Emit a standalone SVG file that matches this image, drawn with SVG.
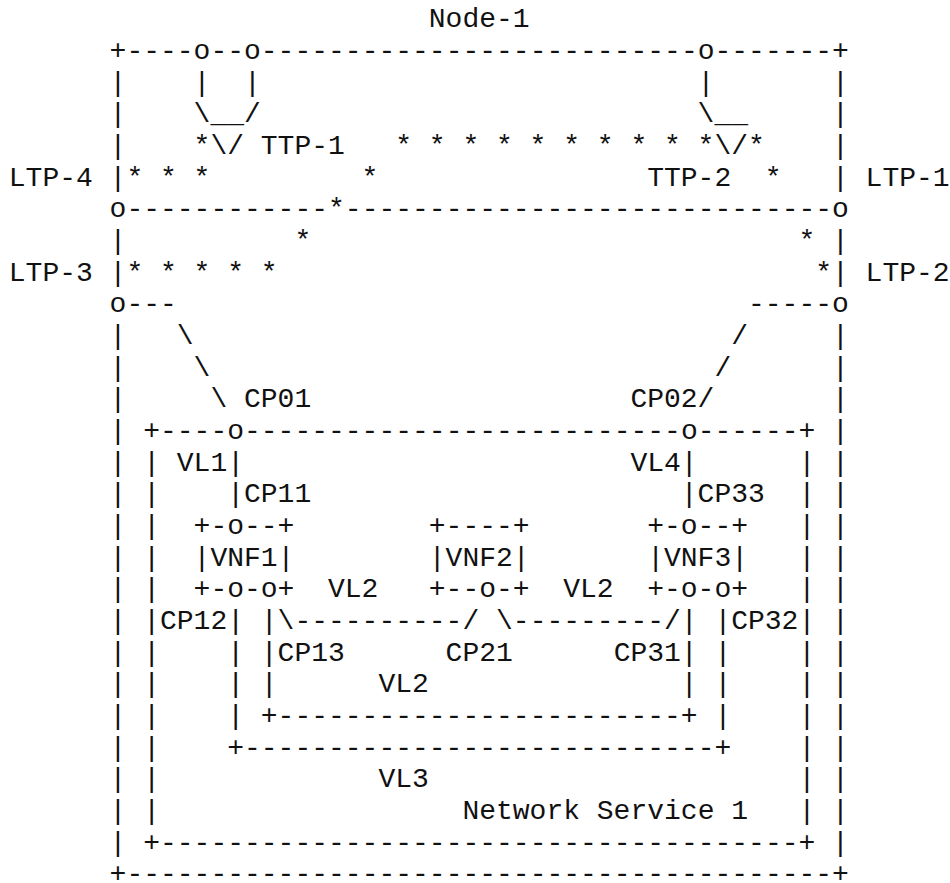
<svg xmlns="http://www.w3.org/2000/svg" width="950" height="883" viewBox="0 0 950 883" xml:space="preserve">
<style>
text { font-family: "Liberation Mono", "Courier New", monospace; font-size: 28px; fill: #111; white-space: pre; }
</style>
<rect x="0" y="0" width="950" height="883" fill="#ffffff"/>

<g id="node-1">
  <text x="428.8" y="27.33">Node-1</text>
  <text x="109.6" y="59">+----o--o--------------------------o-------+</text>
  <text x="109.6" y="881.5">+------------------------------------------+</text>
  <text><tspan x="109.6" y="90.67">|</tspan><tspan x="109.6" y="122.34">|</tspan><tspan x="109.6" y="154.01">|</tspan><tspan x="109.6" y="185.68">|</tspan><tspan x="109.6" y="249.02">|</tspan><tspan x="109.6" y="280.69">|</tspan><tspan x="109.6" y="344.03">|</tspan><tspan x="109.6" y="375.70">|</tspan><tspan x="109.6" y="407.37">|</tspan><tspan x="109.6" y="439.04">|</tspan><tspan x="109.6" y="470.71">|</tspan><tspan x="109.6" y="502.38">|</tspan><tspan x="109.6" y="534.05">|</tspan><tspan x="109.6" y="565.72">|</tspan><tspan x="109.6" y="597.39">|</tspan><tspan x="109.6" y="629.06">|</tspan><tspan x="109.6" y="660.73">|</tspan><tspan x="109.6" y="692.40">|</tspan><tspan x="109.6" y="724.07">|</tspan><tspan x="109.6" y="755.74">|</tspan><tspan x="109.6" y="787.41">|</tspan><tspan x="109.6" y="819.08">|</tspan><tspan x="109.6" y="850.75">|</tspan></text>
  <text><tspan x="832" y="90.67">|</tspan><tspan x="832" y="122.34">|</tspan><tspan x="832" y="154.01">|</tspan><tspan x="832" y="185.68">|</tspan><tspan x="832" y="249.02">|</tspan><tspan x="832" y="280.69">|</tspan><tspan x="832" y="344.03">|</tspan><tspan x="832" y="375.70">|</tspan><tspan x="832" y="407.37">|</tspan><tspan x="832" y="439.04">|</tspan><tspan x="832" y="470.71">|</tspan><tspan x="832" y="502.38">|</tspan><tspan x="832" y="534.05">|</tspan><tspan x="832" y="565.72">|</tspan><tspan x="832" y="597.39">|</tspan><tspan x="832" y="629.06">|</tspan><tspan x="832" y="660.73">|</tspan><tspan x="832" y="692.40">|</tspan><tspan x="832" y="724.07">|</tspan><tspan x="832" y="755.74">|</tspan><tspan x="832" y="787.41">|</tspan><tspan x="832" y="819.08">|</tspan><tspan x="832" y="850.75">|</tspan></text>
</g>

<g id="ltp-4">
  <text x="8.8" y="185.68">LTP-4</text>
  <text x="109.6" y="217.35">o</text>
</g>
<g id="ltp-1">
  <text x="865.6" y="185.68">LTP-1</text>
  <text x="832" y="217.35">o</text>
</g>
<g id="ltp-3">
  <text x="8.8" y="280.69">LTP-3</text>
  <text x="109.6" y="312.36">o</text>
</g>
<g id="ltp-2">
  <text x="865.6" y="280.69">LTP-2</text>
  <text x="832" y="312.36">o</text>
</g>

<g id="ttp-1">
  <text x="193.6" y="90.67">|  |</text>
  <text x="193.6" y="122.34">\__/</text>
  <text x="210.4" y="154.01">\/</text>
  <text x="260.8" y="154.01">TTP-1</text>
</g>
<g id="ttp-2">
  <text x="697.6" y="90.67">|</text>
  <text x="697.6" y="122.34">\__</text>
  <text x="714.4" y="154.01">\/</text>
  <text x="647.2" y="185.68">TTP-2</text>
</g>

<g id="network-service-1">
  <text x="143.2" y="439.04">+----o--------------------------o------+</text>
  <text x="143.2" y="850.75">+--------------------------------------+</text>
  <text><tspan x="143.2" y="470.71">|</tspan><tspan x="143.2" y="502.38">|</tspan><tspan x="143.2" y="534.05">|</tspan><tspan x="143.2" y="565.72">|</tspan><tspan x="143.2" y="597.39">|</tspan><tspan x="143.2" y="629.06">|</tspan><tspan x="143.2" y="660.73">|</tspan><tspan x="143.2" y="692.40">|</tspan><tspan x="143.2" y="724.07">|</tspan><tspan x="143.2" y="755.74">|</tspan><tspan x="143.2" y="787.41">|</tspan><tspan x="143.2" y="819.08">|</tspan></text>
  <text><tspan x="798.4" y="470.71">|</tspan><tspan x="798.4" y="502.38">|</tspan><tspan x="798.4" y="534.05">|</tspan><tspan x="798.4" y="565.72">|</tspan><tspan x="798.4" y="597.39">|</tspan><tspan x="798.4" y="629.06">|</tspan><tspan x="798.4" y="660.73">|</tspan><tspan x="798.4" y="692.40">|</tspan><tspan x="798.4" y="724.07">|</tspan><tspan x="798.4" y="755.74">|</tspan><tspan x="798.4" y="787.41">|</tspan><tspan x="798.4" y="819.08">|</tspan></text>
  <text x="462.4" y="819.08">Network Service 1</text>
</g>

<g id="vnf1">
  <text x="193.6" y="534.05">+-o--+</text>
  <text x="193.6" y="565.72">|VNF1|</text>
  <text x="193.6" y="597.39">+-o-o+</text>
</g>
<g id="vnf2">
  <text x="428.8" y="534.05">+----+</text>
  <text x="428.8" y="565.72">|VNF2|</text>
  <text x="428.8" y="597.39">+--o-+</text>
</g>
<g id="vnf3">
  <text x="647.2" y="534.05">+-o--+</text>
  <text x="647.2" y="565.72">|VNF3|</text>
  <text x="647.2" y="597.39">+-o-o+</text>
</g>

<g id="connectors">
  <!-- TE path (stars) -->
  <text x="193.6" y="154.01">*</text>
  <text x="395.2" y="154.01">* * * * * * * * *</text>
  <text x="697.6" y="154.01">*</text>
  <text x="748" y="154.01">*</text>
  <text x="126.4" y="185.68">* * *</text>
  <text x="361.6" y="185.68">*</text>
  <text x="764.8" y="185.68">*</text>
  <text x="126.4" y="217.35">------------*-----------------------------</text>
  <text x="294.4" y="249.02">*</text>
  <text x="798.4" y="249.02">*</text>
  <text x="126.4" y="280.69">* * * * *</text>
  <text x="815.2" y="280.69">*</text>
  <!-- links from LTP-3 / LTP-2 to CP01 / CP02 -->
  <text x="126.4" y="312.36">---</text>
  <text x="748" y="312.36">-----</text>
  <text x="176.8" y="344.03">\</text>
  <text x="731.2" y="344.03">/</text>
  <text x="193.6" y="375.70">\</text>
  <text x="714.4" y="375.70">/</text>
  <text x="210.4" y="407.37">\ CP01</text>
  <text x="630.4" y="407.37">CP02/</text>
  <!-- VL1 / VL4 -->
  <text x="176.8" y="470.71">VL1|</text>
  <text x="630.4" y="470.71">VL4|</text>
  <text x="227.2" y="502.38">|CP11</text>
  <text x="680.8" y="502.38">|CP33</text>
  <!-- VL2 / VL3 -->
  <text x="328" y="597.39">VL2</text>
  <text x="563.2" y="597.39">VL2</text>
  <text x="160" y="629.06">CP12</text>
  <text x="227.2" y="629.06">| |\----------/ \---------/| |</text>
  <text x="731.2" y="629.06">CP32</text>
  <text x="227.2" y="660.73">| |CP13      CP21      CP31| |</text>
  <text x="227.2" y="692.40">| |      VL2               | |</text>
  <text x="227.2" y="724.07">| +------------------------+ |</text>
  <text x="227.2" y="755.74">+----------------------------+</text>
  <text x="378.4" y="787.41">VL3</text>
</g>
</svg>
